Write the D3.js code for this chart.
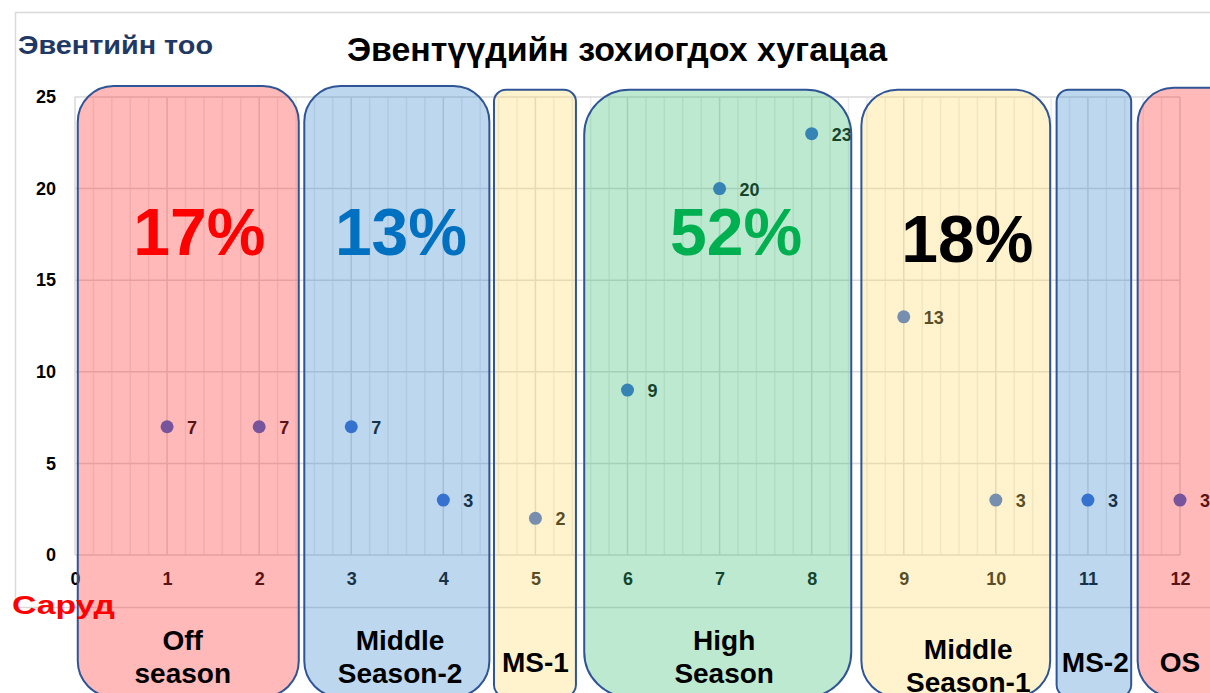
<!DOCTYPE html>
<html>
<head>
<meta charset="utf-8">
<script src="https://cdn.jsdelivr.net/npm/d3@7"></script>
<style>
    body { margin: 0; background: #fff; }
    svg { display: block; font-family: 'Liberation Sans', Arial, sans-serif; }
</style>
</head>
<body>
<svg id="chart" width="1210" height="693"></svg>
<script>
// months (x) and event counts (y)
const months = [1, 2, 3, 4, 5, 6, 7, 8, 9, 10, 11, 12];
const eventCounts = [7, 7, 7, 3, 2, 9, 20, 23, 13, 3, 3, 3];
const xTicks = [0, 1, 2, 3, 4, 5, 6, 7, 8, 9, 10, 11, 12];
const yTicks = [0, 5, 10, 15, 20, 25];

// season bands, in month units
const seasonLines = [['Off', 'season'], ['Middle', 'Season-2'], ['MS-1'], ['High', 'Season'], ['Middle', 'Season-1'], ['MS-2'], ['OS']];
const seasonKinds = ['off', 'middle', 'ms', 'high', 'ms', 'middle', 'off'];
const seasonStart = [0.03, 2.49, 4.55, 5.53, 8.54, 10.66, 11.54];
const seasonEnd = [2.43, 4.5, 5.44, 8.43, 10.59, 11.47, 12.8];
const seasonTop = [25.6, 25.6, 25.4, 25.4, 25.4, 25.4, 25.5];
const seasonLabelX = [1.17, 3.53, 5.0, 7.05, 9.7, 11.08, 12.0];

// share of events per season
const shareText = ['17%', '13%', '52%', '18%'];
const shareX = [1.35, 3.54, 7.18, 9.69];
const shareY = [16.4, 16.4, 16.4, 16.0];
const shareKind = ['off', 'middle', 'high', 'ms'];

const fills = { off: '#ff3737', middle: '#428cce', ms: '#ffdc6f', high: '#42bf7b' };
const shareColors = { off: '#ff0000', middle: '#0070c0', high: '#00b050', ms: '#000000' };

const svg = d3.select('#chart');

const xScale = d3.scaleLinear().domain([0, 12]).range([75, 1180]);
const yScale = d3.scaleLinear().domain([0, 25]).range([555, 97]);

// chart frame
svg.append('path')
    .attr('d', 'M1212,12.5H15.5V607.5H1212')
    .attr('fill', 'none')
    .attr('stroke', '#d9d9d9')
    .attr('stroke-width', 1.5);

// minor vertical grid
const minor = d3.range(0, 60).map(i => i / 5).filter(v => v % 1 !== 0);
svg.append('g')
    .selectAll('line')
    .data(minor)
    .enter()
    .append('line')
    .attr('x1', d => xScale(d))
    .attr('x2', d => xScale(d))
    .attr('y1', yScale(25))
    .attr('y2', yScale(0))
    .attr('stroke', '#ececec')
    .attr('stroke-width', 1.5);

// major grid
svg.append('g')
    .selectAll('line')
    .data(xTicks)
    .enter()
    .append('line')
    .attr('x1', d => xScale(d))
    .attr('x2', d => xScale(d))
    .attr('y1', yScale(25))
    .attr('y2', yScale(0))
    .attr('stroke', '#d9d9d9')
    .attr('stroke-width', 1.5);

svg.append('g')
    .selectAll('line')
    .data(yTicks)
    .enter()
    .append('line')
    .attr('x1', xScale(0))
    .attr('x2', xScale(12))
    .attr('y1', d => yScale(d))
    .attr('y2', d => yScale(d))
    .attr('stroke', '#d9d9d9')
    .attr('stroke-width', 1.5);

// axes (labels only)
const yAxis = d3.axisLeft(yScale).tickValues(yTicks).tickSize(0).tickPadding(19);
const gY = svg.append('g').attr('transform', 'translate(' + xScale(0) + ',0)').call(yAxis);
gY.select('.domain').remove();
gY.selectAll('text')
    .attr('font-size', 18)
    .attr('font-weight', 'bold')
    .attr('fill', '#000')
    .attr('font-family', null);

const xAxis = d3.axisBottom(xScale).tickValues(xTicks).tickSize(0).tickPadding(17);
const gX = svg.append('g').attr('transform', 'translate(0,' + yScale(0) + ')').call(xAxis);
gX.select('.domain').remove();
gX.selectAll('text')
    .attr('font-size', 18)
    .attr('font-weight', 'bold')
    .attr('fill', '#000')
    .attr('font-family', null);

// points
const data = months.map((m, i) => ({ month: m, count: eventCounts[i] }));
svg.append('g')
    .selectAll('circle')
    .data(data)
    .enter()
    .append('circle')
    .attr('cx', d => xScale(d.month))
    .attr('cy', d => yScale(d.count))
    .attr('r', 6.5)
    .attr('fill', '#2f64d2');

svg.append('g')
    .selectAll('text')
    .data(data)
    .enter()
    .append('text')
    .attr('x', d => xScale(d.month) + 20)
    .attr('y', d => yScale(d.count) + 7)
    .attr('font-size', 18)
    .attr('font-weight', 'bold')
    .text(d => d.count);

// season overlays
const seasons = seasonLines.map((lines, i) => ({
    lines: lines,
    kind: seasonKinds[i],
    x0: seasonStart[i],
    x1: seasonEnd[i],
    top: seasonTop[i],
    lx: seasonLabelX[i]
}));

svg.append('g')
    .selectAll('rect')
    .data(seasons)
    .enter()
    .append('rect')
    .attr('x', d => xScale(d.x0))
    .attr('y', d => yScale(d.top))
    .attr('width', d => xScale(d.x1) - xScale(d.x0))
    .attr('height', d => 697 - yScale(d.top))
    .attr('rx', d => (d.x1 - d.x0 < 1 ? 12 : d.kind === 'high' ? 45 : 36))
    .attr('fill', d => fills[d.kind])
    .attr('fill-opacity', 0.35)
    .attr('stroke', '#2f5597')
    .attr('stroke-width', 2);

// season names
const nameG = svg.append('g')
    .selectAll('text')
    .data(seasons)
    .enter()
    .append('text')
    .attr('text-anchor', 'middle')
    .attr('font-size', 28)
    .attr('font-weight', 'bold')
    .attr('fill', '#000');

nameG.each(function(d) {
    const t = d3.select(this);
    const base = d.lines.length === 1 ? 672 : (d.kind === 'ms' ? 659 : 650);
    d.lines.forEach((line, j) => {
        t.append('tspan')
            .attr('x', xScale(d.lx))
            .attr('y', base + j * 33)
            .text(line);
    });
});

// share percentages
svg.append('g')
    .selectAll('text')
    .data(shareText)
    .enter()
    .append('text')
    .attr('x', (d, i) => xScale(shareX[i]))
    .attr('y', (d, i) => yScale(shareY[i]))
    .attr('text-anchor', 'middle')
    .attr('font-size', 66)
    .attr('font-weight', 'bold')
    .attr('fill', (d, i) => shareColors[shareKind[i]])
    .text(d => d);

// titles
svg.append('text')
    .attr('x', 617)
    .attr('y', 61)
    .attr('text-anchor', 'middle')
    .attr('font-size', 33)
    .attr('font-weight', 'bold')
    .attr('fill', '#000')
    .attr('textLength', 540)
    .attr('lengthAdjust', 'spacingAndGlyphs')
    .text('Эвентүүдийн зохиогдох хугацаа');

svg.append('text')
    .attr('x', 18)
    .attr('y', 54)
    .attr('font-size', 26)
    .attr('font-weight', 'bold')
    .attr('fill', '#1f3864')
    .attr('textLength', 195)
    .attr('lengthAdjust', 'spacingAndGlyphs')
    .text('Эвентийн тоо');

svg.append('text')
    .attr('x', 12)
    .attr('y', 614)
    .attr('font-size', 26)
    .attr('font-weight', 'bold')
    .attr('fill', '#ff0000')
    .attr('textLength', 103)
    .attr('lengthAdjust', 'spacingAndGlyphs')
    .text('Саруд');
</script>
</body>
</html>
